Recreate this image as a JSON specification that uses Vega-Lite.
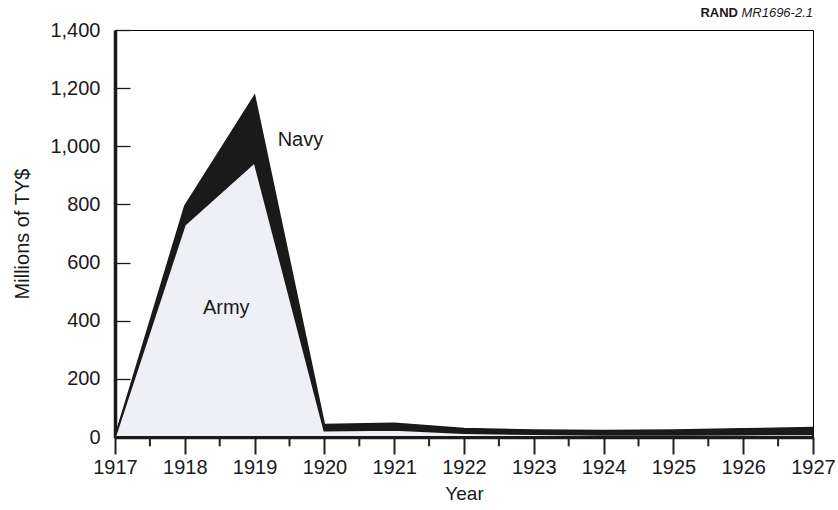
{
  "$schema": "https://vega.github.io/schema/vega-lite/v6.json",
  "width": 698,
  "height": 407,
  "autosize": {"type": "none"},
  "padding": {"left": 115, "top": 30, "right": 25, "bottom": 73},
  "background": "white",
  "config": {
    "font": "Liberation Sans",
    "view": {"stroke": "#000", "strokeWidth": 1}
  },
  "datasets": {
    "spend": [
      {"year": 1917, "army": 0, "total": 0},
      {"year": 1918, "army": 730, "total": 795},
      {"year": 1919, "army": 945, "total": 1175},
      {"year": 1920, "army": 22, "total": 43},
      {"year": 1921, "army": 25, "total": 47},
      {"year": 1922, "army": 14, "total": 29},
      {"year": 1923, "army": 10, "total": 24},
      {"year": 1924, "army": 8, "total": 22},
      {"year": 1925, "army": 8, "total": 24},
      {"year": 1926, "army": 9, "total": 28},
      {"year": 1927, "army": 10, "total": 33}
    ],
    "minorTicks": [
      {"year": 1917.5}, {"year": 1918.5}, {"year": 1919.5}, {"year": 1920.5}, {"year": 1921.5},
      {"year": 1922.5}, {"year": 1923.5}, {"year": 1924.5}, {"year": 1925.5}, {"year": 1926.5}
    ],
    "notes": [
      {"year": 1919.33, "value": 1020, "text": "Navy"},
      {"year": 1918.26, "value": 443, "text": "Army"}
    ],
    "credit": [
      {"year": 1927, "value": 1443, "text": "MR1696-2.1", "part": "id"},
      {"year": 1927, "value": 1443, "text": "RAND", "part": "org"}
    ]
  },
  "layer": [
    {
      "data": {"name": "spend"},
      "mark": {"type": "area", "color": "#1a1a1a", "stroke": "#1a1a1a", "strokeWidth": 1.5, "interpolate": "linear"},
      "encoding": {
        "x": {
          "field": "year", "type": "quantitative",
          "scale": {"domain": [1917, 1927], "nice": false, "zero": false},
          "axis": {
            "title": "Year",
            "values": [1917, 1918, 1919, 1920, 1921, 1922, 1923, 1924, 1925, 1926, 1927],
            "format": "d",
            "tickSize": 17,
            "tickColor": "#222",
            "tickWidth": 2,
            "tickRound": true,
            "domainColor": "#1a1a1a",
            "domainWidth": 3.5,
            "labelFontSize": 20,
            "labelColor": "#1a1a1a",
            "labelPadding": 3,
            "labelFlush": false,
            "labelOverlap": false,
            "titleFontSize": 19,
            "titleFontWeight": "normal",
            "titleColor": "#1a1a1a",
            "titlePadding": 7,
            "grid": false
          }
        },
        "y": {
          "field": "total", "type": "quantitative",
          "scale": {"domain": [0, 1400], "nice": false},
          "axis": {
            "title": "Millions of TY$",
            "values": [0, 200, 400, 600, 800, 1000, 1200, 1400],
            "format": ",d",
            "tickSize": -15,
            "tickColor": "#1a1a1a",
            "tickWidth": 1.3,
            "domainColor": "#1a1a1a",
            "domainWidth": 3.5,
            "labelFontSize": 20,
            "labelColor": "#1a1a1a",
            "labelPadding": 30,
            "labelFlush": false,
            "titleFontSize": 20,
            "titleFontWeight": "normal",
            "titleColor": "#1a1a1a",
            "titlePadding": 17,
            "grid": false
          }
        }
      }
    },
    {
      "data": {"name": "spend"},
      "mark": {"type": "area", "color": "#eff0f5", "stroke": "#1a1a1a", "strokeWidth": 2, "interpolate": "linear"},
      "encoding": {
        "x": {"field": "year", "type": "quantitative"},
        "y": {"field": "army", "type": "quantitative"}
      }
    },
    {
      "data": {"name": "minorTicks"},
      "mark": {"type": "rule", "color": "#222", "strokeWidth": 2, "clip": false},
      "encoding": {
        "x": {"field": "year", "type": "quantitative"},
        "y": {"datum": 0},
        "y2": {"datum": -32}
      }
    },
    {
      "data": {"name": "notes"},
      "mark": {"type": "text", "fontSize": 20, "color": "#1a1a1a", "baseline": "middle", "align": "left"},
      "encoding": {
        "x": {"field": "year", "type": "quantitative"},
        "y": {"field": "value", "type": "quantitative"},
        "text": {"field": "text"}
      }
    },
    {
      "data": {"name": "credit"},
      "transform": [{"filter": "datum.part === 'id'"}],
      "mark": {"type": "text", "fontSize": 13, "fontStyle": "italic", "color": "#1a1a1a", "align": "right", "baseline": "alphabetic", "clip": false},
      "encoding": {
        "x": {"field": "year", "type": "quantitative"},
        "y": {"field": "value", "type": "quantitative"},
        "text": {"field": "text"}
      }
    },
    {
      "data": {"name": "credit"},
      "transform": [{"filter": "datum.part === 'org'"}],
      "mark": {"type": "text", "fontSize": 13, "fontWeight": "bold", "color": "#1a1a1a", "align": "right", "baseline": "alphabetic", "dx": -75, "clip": false},
      "encoding": {
        "x": {"field": "year", "type": "quantitative"},
        "y": {"field": "value", "type": "quantitative"},
        "text": {"field": "text"}
      }
    }
  ]
}
